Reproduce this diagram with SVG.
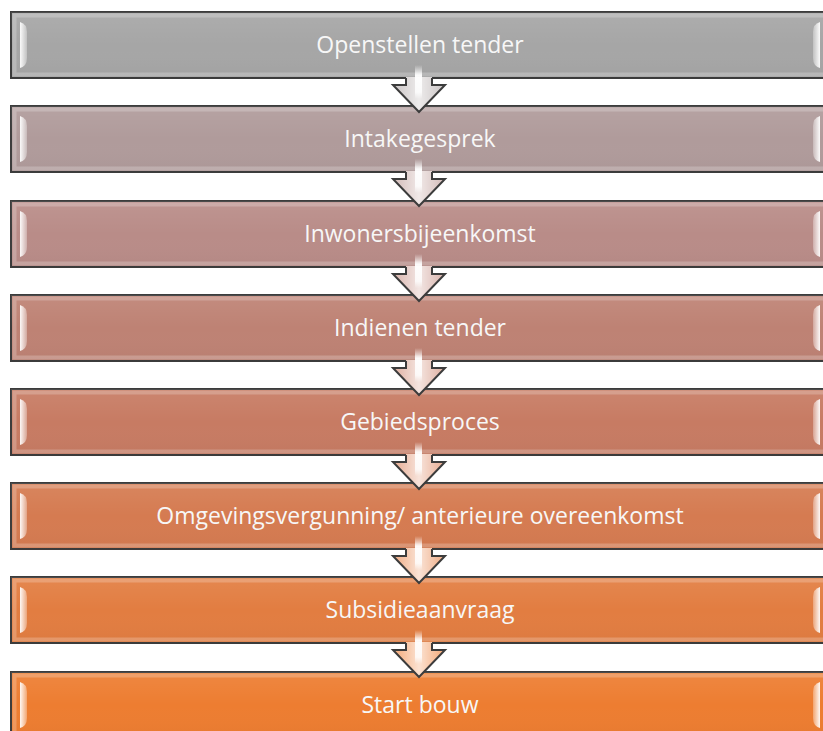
<svg xmlns="http://www.w3.org/2000/svg" width="823" height="731" viewBox="0 0 823 731">
<defs>
<linearGradient id="hlL" x1="0" y1="0" x2="1" y2="0">
<stop offset="0" stop-color="#fff" stop-opacity="0.95"/>
<stop offset="1" stop-color="#fff" stop-opacity="0.3"/>
</linearGradient>
<linearGradient id="hlR" x1="1" y1="0" x2="0" y2="0">
<stop offset="0" stop-color="#fff" stop-opacity="0.95"/>
<stop offset="1" stop-color="#fff" stop-opacity="0.3"/>
</linearGradient>
<linearGradient id="sheen" x1="0" y1="0" x2="0" y2="1">
<stop offset="0" stop-color="#fff" stop-opacity="0.08"/>
<stop offset="0.5" stop-color="#fff" stop-opacity="0"/>
<stop offset="1" stop-color="#000" stop-opacity="0.03"/>
</linearGradient>
<linearGradient id="arrowGlow" x1="0" y1="0" x2="1" y2="0">
<stop offset="0" stop-color="#fff" stop-opacity="0.25"/>
<stop offset="0.5" stop-color="#fff" stop-opacity="0.75"/>
<stop offset="1" stop-color="#fff" stop-opacity="0.25"/>
</linearGradient>
<linearGradient id="stripe" x1="0" y1="0" x2="0" y2="1">
<stop offset="0" stop-color="#fff" stop-opacity="0"/>
<stop offset="0.3" stop-color="#fff" stop-opacity="0.95"/>
<stop offset="0.8" stop-color="#fff" stop-opacity="0.8"/>
<stop offset="1" stop-color="#fff" stop-opacity="0"/>
</linearGradient>
<g id="box">
<rect x="11" y="0" width="818" height="66" stroke="#3c3c3c" stroke-width="2"/>
<rect x="11" y="0" width="818" height="66" fill="url(#sheen)"/>
<rect x="14.5" y="3.5" width="811" height="59" fill="none" stroke="#fff" stroke-opacity="0.22" stroke-width="4"/>
<path d="M20,10 Q27,12 27,20 L27,46 Q27,54 20,56 Z" fill="url(#hlL)"/>
<path d="M820,10 Q813,12 813,20 L813,46 Q813,54 820,56 Z" fill="url(#hlR)"/>
</g>
<path id="arr" d="M406,-1 L406,7 L393,7 L419,34 L445,7 L432,7 L432,-1 Z"/>
<path id="arrOutline" d="M406,0 L406,7 L393,7 L419,34 L445,7 L432,7 L432,0"/>
</defs>
<style>
text{font-family:"Open Sans","Liberation Sans",sans-serif;font-size:23px;fill:#f7f7f7;text-anchor:middle}
.ol{fill:none;stroke:#3c3c3c;stroke-width:2;stroke-linejoin:miter}
</style>
<rect width="823" height="731" fill="#fff"/>

<g id="n1"><use href="#box" y="12" fill="#a6a6a6"/><text x="420" y="53">Openstellen tender</text></g>
<g id="n2"><use href="#box" y="106" fill="#b09b9b"/><text x="420" y="147">Intakegesprek</text></g>
<g id="n3"><use href="#box" y="201" fill="#b98c88"/><text x="420" y="242">Inwonersbijeenkomst</text></g>
<g id="n4"><use href="#box" y="295" fill="#be8274"/><text x="420" y="336">Indienen tender</text></g>
<g id="n5"><use href="#box" y="389" fill="#c77b63"/><text x="420" y="430">Gebiedsproces</text></g>
<g id="n6"><use href="#box" y="483" fill="#d57b51"/><text x="420" y="524">Omgevingsvergunning/ anterieure overeenkomst</text></g>
<g id="n7"><use href="#box" y="577" fill="#e27d41"/><text x="420" y="618">Subsidieaanvraag</text></g>
<g id="n8"><use href="#box" y="672" fill="#ed7d31"/><text x="420" y="713">Start bouw</text></g>

<g id="connectors">
<g transform="translate(0,78)"><use href="#arr" fill="#b8b0b0"/><use href="#arr" fill="url(#arrowGlow)"/><use href="#arrOutline" class="ol"/><rect x="415" y="-13" width="7" height="34" fill="url(#stripe)"/></g>
<g transform="translate(0,172)"><use href="#arr" fill="#c4a4a0"/><use href="#arr" fill="url(#arrowGlow)"/><use href="#arrOutline" class="ol"/><rect x="415" y="-13" width="7" height="34" fill="url(#stripe)"/></g>
<g transform="translate(0,267)"><use href="#arr" fill="#cc9a90"/><use href="#arr" fill="url(#arrowGlow)"/><use href="#arrOutline" class="ol"/><rect x="415" y="-13" width="7" height="34" fill="url(#stripe)"/></g>
<g transform="translate(0,361)"><use href="#arr" fill="#d49480"/><use href="#arr" fill="url(#arrowGlow)"/><use href="#arrOutline" class="ol"/><rect x="415" y="-13" width="7" height="34" fill="url(#stripe)"/></g>
<g transform="translate(0,455)"><use href="#arr" fill="#e08f6c"/><use href="#arr" fill="url(#arrowGlow)"/><use href="#arrOutline" class="ol"/><rect x="415" y="-13" width="7" height="34" fill="url(#stripe)"/></g>
<g transform="translate(0,549)"><use href="#arr" fill="#ea8f5a"/><use href="#arr" fill="url(#arrowGlow)"/><use href="#arrOutline" class="ol"/><rect x="415" y="-13" width="7" height="34" fill="url(#stripe)"/></g>
<g transform="translate(0,643)"><use href="#arr" fill="#f08c4a"/><use href="#arr" fill="url(#arrowGlow)"/><use href="#arrOutline" class="ol"/><rect x="415" y="-13" width="7" height="34" fill="url(#stripe)"/></g>
</g>
</svg>
